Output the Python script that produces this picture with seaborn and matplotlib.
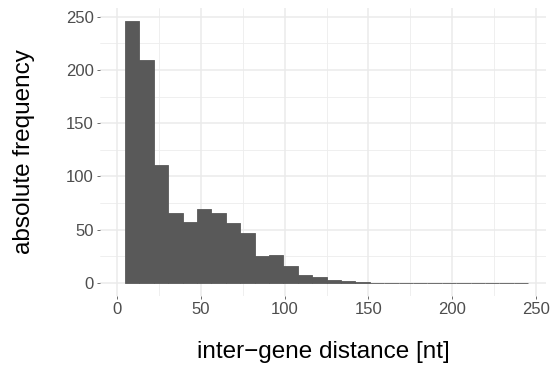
import matplotlib
matplotlib.use("Agg")
import matplotlib.pyplot as plt
import seaborn as sns

# histogram bins (centres, nt) and counts
bin_centers = [8.9, 17.5, 26.1, 34.7, 43.3, 51.9, 60.5, 69.1, 77.7, 86.3,
               94.9, 103.5, 112.1, 120.7, 129.3, 137.9, 146.5, 155.1, 163.7, 172.3,
               180.9, 189.5, 198.1, 206.7, 215.3, 223.9, 232.5, 241.1]
counts = [246, 209, 111, 66, 57, 69, 66, 56, 47, 25,
          26, 16, 7, 5, 3, 2, 1, 0, 0, 0,
          0, 0, 0, 0, 0, 0, 0, 0]
x_ticks = [0, 50, 100, 150, 200, 250]
y_ticks = [0, 50, 100, 150, 200, 250]

sns.set_theme(style="white")
plt.rcParams['font.family'] = ['Liberation Sans', 'DejaVu Sans']

fig = plt.figure(figsize=(5.5, 3.67), dpi=100)
ax = fig.add_axes([0.1818, 0.194, 0.811, 0.784])

# ggplot-like minimal grid
ax.set_axisbelow(True)
for v in [25, 75, 125, 175, 225]:
    ax.axvline(v, color="#EDEDED", lw=0.6, zorder=0)
    ax.axhline(v, color="#EDEDED", lw=0.6, zorder=0)
for v in x_ticks:
    ax.axvline(v, color="#EBEBEB", lw=1.1, zorder=0)
for v in y_ticks:
    ax.axhline(v, color="#EBEBEB", lw=1.1, zorder=0)

sns.histplot(x=bin_centers, weights=counts, binwidth=8.6, binrange=(4.6, 245.4),
             color="#595959", edgecolor="#595959", linewidth=0.6, alpha=1, ax=ax)

ax.set_xlim(-10.3, 256)
ax.set_ylim(-12.3, 258.3)
ax.set_xticks(x_ticks)
ax.set_yticks(y_ticks)
ax.tick_params(axis="both", length=2.5, width=0.5, color="#333333",
               labelsize=12, labelcolor="#4D4D4D", pad=2, bottom=True, left=True)
for s in ax.spines.values():
    s.set_visible(False)

ax.set_xlabel("inter\u2212gene distance [nt]", fontsize=17.5, color="black")
ax.set_ylabel("absolute frequency", fontsize=17.5, color="black")
ax.xaxis.set_label_coords(0.5, -0.195)
ax.xaxis.label.set_verticalalignment("center")
ax.yaxis.set_label_coords(-0.17, 0.5)
ax.yaxis.label.set_verticalalignment("center")

fig.savefig("out.png", dpi=100)
